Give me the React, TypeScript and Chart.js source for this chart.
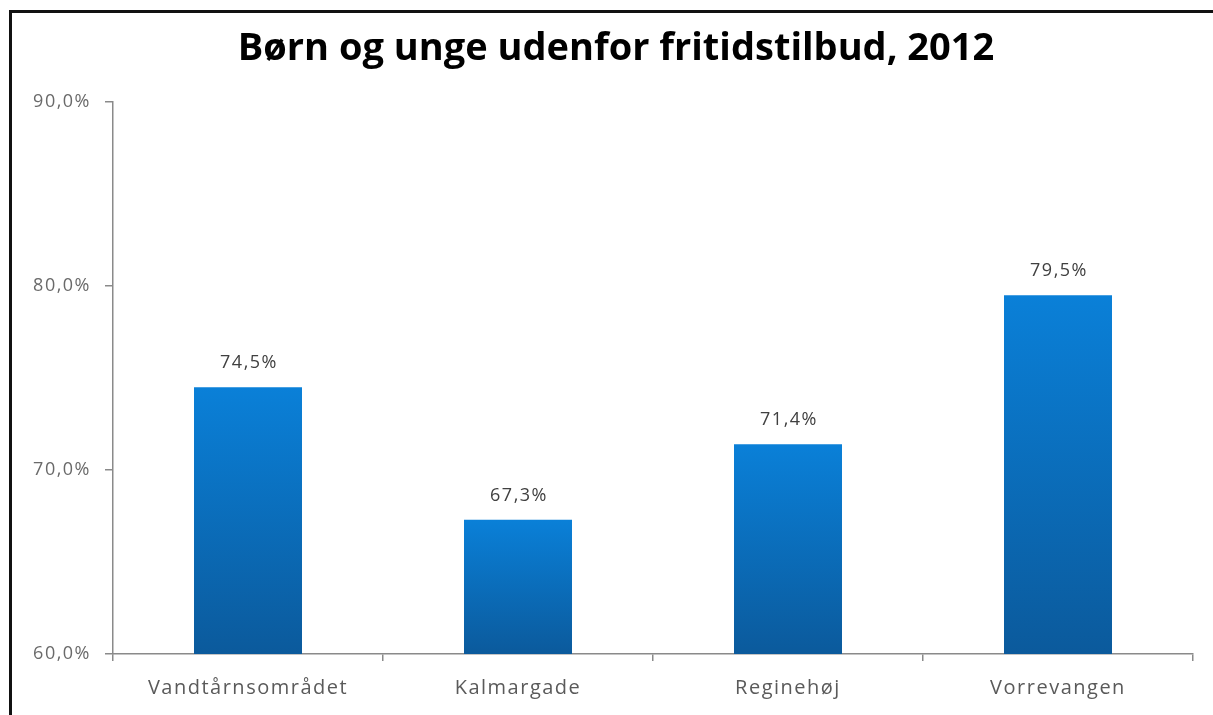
import React, { useEffect, useRef } from "react";
import { Chart, registerables } from "chart.js";

Chart.register(...registerables);

const titleText = "Børn og unge udenfor fritidstilbud, 2012";
const categories = ["Vandtårnsområdet", "Kalmargade", "Reginehøj", "Vorrevangen"];
const values = [74.5, 67.3, 71.4, 79.5];
const yMin = 60;
const yMax = 90;
const yStep = 10;

const fmt = (v: number) => v.toFixed(1).replace(".", ",") + "%";

const FONT = "'Open Sans', 'Noto Sans', sans-serif";

const spacingPlugin = {
  id: "spacing",
  beforeDraw(chart: any) {
    (chart.ctx as any).letterSpacing = "1.5px";
  },
};

const titlePlugin = {
  id: "customTitle",
  afterDraw(chart: any) {
    const ctx = chart.ctx;
    ctx.save();
    (ctx as any).letterSpacing = "0px";
    ctx.font = `bold 38px ${FONT}`;
    ctx.fillStyle = "#000";
    ctx.textAlign = "center";
    ctx.textBaseline = "alphabetic";
    ctx.fillText(titleText, 616, 60);
    ctx.restore();
  },
};

const valueLabelPlugin = {
  id: "valueLabels",
  afterDatasetsDraw(chart: any) {
    const ctx = chart.ctx;
    const meta = chart.getDatasetMeta(0);
    ctx.save();
    (ctx as any).letterSpacing = "1.5px";
    ctx.font = `18px ${FONT}`;
    ctx.fillStyle = "#404040";
    ctx.textAlign = "center";
    ctx.textBaseline = "middle";
    meta.data.forEach((bar: any, i: number) => {
      ctx.fillText(fmt(values[i]), bar.x + 1, bar.y - 24);
    });
    ctx.restore();
  },
};

export default function App() {
  const ref = useRef<HTMLCanvasElement | null>(null);

  useEffect(() => {
    if (!ref.current) return;
    const chart = new Chart(ref.current, {
      type: "bar",
      data: {
        labels: categories,
        datasets: [
          {
            data: values,
            backgroundColor: (c: any) => {
              const ch = c.chart;
              const ys = ch.scales && ch.scales.y;
              if (!ys || c.type !== "data") return "#0a6cc0";
              const top = ys.getPixelForValue(c.raw);
              const bottom = ys.getPixelForValue(yMin);
              if (!isFinite(top) || !isFinite(bottom) || top === bottom) return "#0a6cc0";
              const g = ch.ctx.createLinearGradient(0, top, 0, bottom);
              g.addColorStop(0, "#0a80d8");
              g.addColorStop(1, "#0b5a9c");
              return g;
            },
            borderWidth: 0,
            barPercentage: 0.4,
            categoryPercentage: 1,
          },
        ],
      },
      options: {
        responsive: false,
        animation: false,
        devicePixelRatio: 1,
        layout: { padding: { left: 0, right: 20, top: 102, bottom: 0 } },
        plugins: {
          legend: { display: false },
          tooltip: { enabled: false },
          title: { display: false },
        },
        scales: {
          x: {
            grid: {
              display: true,
              offset: true,
              drawOnChartArea: false,
              drawTicks: true,
              tickLength: 7,
              color: "#8a8a8a",
              lineWidth: 1.5,
            },
            border: { display: true, color: "#8a8a8a", width: 1.5 },
            ticks: {
              color: "#5a5a5a",
              font: { family: FONT, size: 20 },
              padding: 15,
            },
            afterFit: (s: any) => {
              s.height = 61;
            },
          },
          y: {
            min: yMin,
            max: yMax,
            grid: {
              display: true,
              drawOnChartArea: false,
              drawTicks: true,
              tickLength: 8,
              color: "#8a8a8a",
              lineWidth: 1.5,
            },
            border: { display: true, color: "#8a8a8a", width: 1.5 },
            ticks: {
              stepSize: yStep,
              color: "#6a6a6a",
              font: { family: FONT, size: 18 },
              padding: 14,
              callback: (v: any) => fmt(Number(v)),
            },
            afterFit: (s: any) => {
              s.width = 113;
            },
          },
        },
      },
      plugins: [spacingPlugin, valueLabelPlugin, titlePlugin],
    });
    return () => chart.destroy();
  }, []);

  return (
    <div style={{ position: "fixed", left: 0, top: 0, width: 1213, height: 715, background: "#fff", overflow: "hidden" }}>
      <canvas ref={ref} width={1213} height={715} style={{ position: "absolute", left: 0, top: 0, width: 1213, height: 715 }} />
      <div style={{ position: "absolute", left: 9, top: 10, width: 1204, height: 3, background: "#111" }} />
      <div style={{ position: "absolute", left: 9, top: 10, width: 3, height: 705, background: "#111" }} />
    </div>
  );
}
